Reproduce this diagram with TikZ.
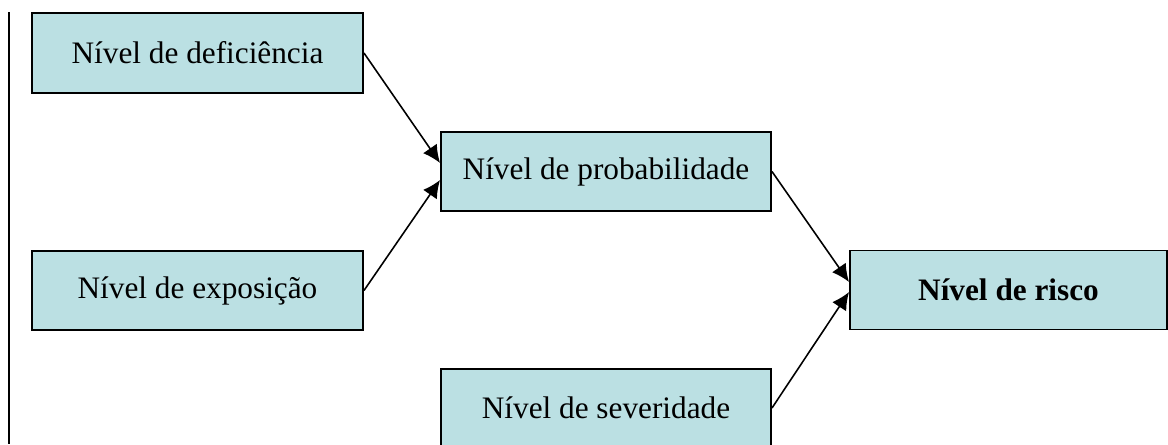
\documentclass[tikz,border=0pt]{standalone}
\usepackage{fontspec}
\setmainfont{Liberation Serif}
\usepackage{tikz}
\usetikzlibrary{arrows.meta}
\definecolor{boxfill}{RGB}{187,224,227}
\tikzset{
    nivel/.style={draw=black, line width=1.1pt, fill=boxfill, inner sep=0pt,
        font=\fontsize{17.8}{21}\selectfont, text=black},
    seta/.style={line width=0.9pt, -{Latex[length=10pt,width=9.5pt]}}
}

\begin{document}
\begin{tikzpicture}[x=0.02cm, y=0.02cm]
    % Fix the page size
    \useasboundingbox (0,0) rectangle (1168,444);

    % Left margin rule
    \coordinate (rtop) at (9,432);
    \coordinate (rbot) at (9,0);
    \draw[line width=1.7pt] (rtop) -- (rbot);

    % Input boxes
    \node[nivel, minimum width=331*0.02cm, minimum height=80*0.02cm] (defic) at (197.5,391) {Nível de deficiência};
    \node[nivel, minimum width=331*0.02cm, minimum height=79*0.02cm] (expo) at (197.5,153.5) {Nível de exposição};

    % Middle boxes
    \node[nivel, minimum width=330*0.02cm, minimum height=79*0.02cm] (prob) at (606,272.5) {Nível de probabilidade};
    \node[nivel, minimum width=330*0.02cm, minimum height=78*0.02cm] (sev) at (606,36) {Nível de severidade};

    % Result box
    \node[nivel, minimum width=317*0.02cm, minimum height=79*0.02cm, font=\fontsize{17.8}{21}\selectfont\bfseries] (risco) at (1008.5,154) {Nível de risco};

    % Arrows
    \draw[seta] (defic.east) -- ([yshift=8.5*0.02cm]prob.west);
    \draw[seta] (expo.east) -- ([yshift=-8.5*0.02cm]prob.west);
    \draw[seta] (prob.east) -- ([yshift=8*0.02cm]risco.west);
    \draw[seta] (sev.east) -- ([yshift=-2*0.02cm]risco.west);
\end{tikzpicture}
\end{document}
